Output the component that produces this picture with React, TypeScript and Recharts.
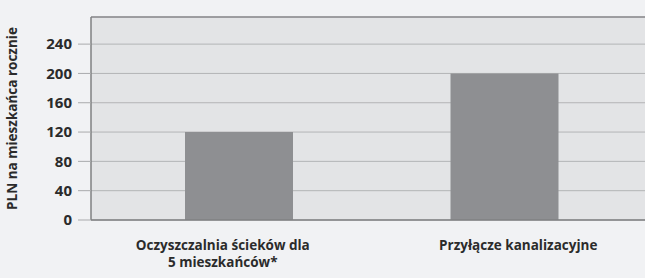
import { Bar, BarChart, CartesianGrid, ReferenceLine, XAxis, YAxis } from 'recharts';

const categories = ['Oczyszczalnia ścieków dla\n5 mieszkańców*', 'Przyłącze kanalizacyjne'];
const costs = [120, 200];
const yTicks = [0, 40, 80, 120, 160, 200, 240];
const yMax = 277;

const data = categories.map((name, i) => ({ name, value: costs[i] }));

const FONT = '"Open Sans", sans-serif';
// labels in the original sit a bit off the bar centres
const labelShift = [-16, 14];

function CategoryTick(props: any) {
  const { x, y, payload, index } = props;
  const lines = String(payload.value).split('\n');
  const cx = x + (labelShift[index] ?? 0);
  return (
    <g>
      {lines.map((line, i) => (
        <text
          key={i}
          x={cx}
          y={y + 22 + i * 17}
          textAnchor="middle"
          fontFamily={FONT}
          fontWeight={700}
          fontSize={13.5}
          fill="#2b2b2b"
        >
          {line}
        </text>
      ))}
    </g>
  );
}

export default function App() {
  return (
    <div style={{ width: 645, height: 278, background: '#f1f2f4' }}>
      <style>{'body{margin:0}'}</style>
      <BarChart
        width={645}
        height={278}
        data={data}
        margin={{ top: 17, right: 0, bottom: 0, left: 0 }}
        barSize={108}
      >
        <CartesianGrid vertical={false} stroke="#b3b4b6" fill="#e3e4e6" />
        <ReferenceLine y={yMax} stroke="#8c8d8f" strokeWidth={1.5} />
        <XAxis
          dataKey="name"
          height={58}
          interval={0}
          padding={{ left: 15, right: 8 }}
          axisLine={{ stroke: '#7f8082', strokeWidth: 1.5 }}
          tickLine={false}
          tick={<CategoryTick />}
        />
        <YAxis
          width={91}
          domain={[0, yMax]}
          ticks={yTicks}
          interval={0}
          tickSize={13}
          tickMargin={6}
          axisLine={{ stroke: '#7f8082', strokeWidth: 1.5 }}
          tickLine={{ stroke: '#a9aaac' }}
          tick={{ fontFamily: FONT, fontWeight: 700, fontSize: 15, fill: '#2b2b2b' }}
          label={{
            value: 'PLN na mieszkańca rocznie',
            angle: -90,
            position: 'insideLeft',
            offset: 12,
            style: { fontFamily: FONT, fontWeight: 700, fontSize: 13.5, fill: '#2b2b2b', textAnchor: 'middle' },
          }}
        />
        <Bar dataKey="value" fill="#8e8f92" isAnimationActive={false} />
      </BarChart>
    </div>
  );
}
